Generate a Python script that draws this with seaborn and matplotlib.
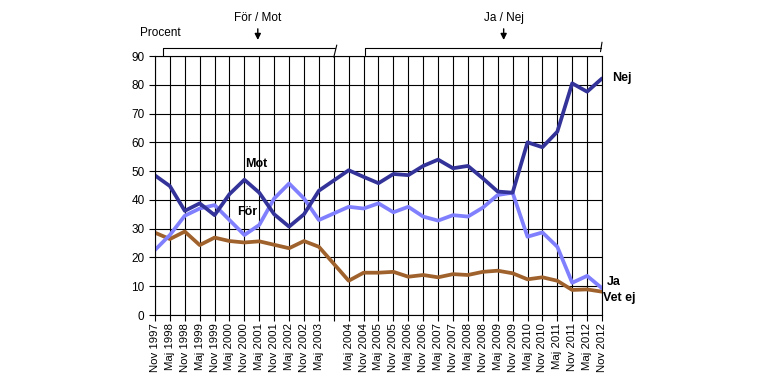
import numpy as np
import pandas as pd
import seaborn as sns
from matplotlib import pyplot as plt

# survey rounds, position 12 (Nov 2003) has no label and no data
labels = ["Nov 1997", "Maj 1998", "Nov 1998", "Maj 1999", "Nov 1999", "Maj 2000",
          "Nov 2000", "Maj 2001", "Nov 2001", "Maj 2002", "Nov 2002", "Maj 2003",
          "",
          "Maj 2004", "Nov 2004", "Maj 2005", "Nov 2005", "Maj 2006", "Nov 2006",
          "Maj 2007", "Nov 2007", "Maj 2008", "Nov 2008", "Maj 2009", "Nov 2009",
          "Maj 2010", "Nov 2010", "Maj 2011", "Nov 2011", "Maj 2012", "Nov 2012"]

mot_nej = [48.5, 44.8, 36.2, 38.8, 34.7, 42.0, 47.0, 42.5, 35.0, 30.7, 35.0, 43.2,
           np.nan,
           50.3, 48.0, 45.8, 49.0, 48.6, 51.8, 54.0, 51.0, 51.8, 47.5, 42.9, 42.5,
           60.0, 58.3, 63.7, 80.5, 77.6, 82.2]
for_ja = [22.6, 27.8, 34.5, 37.0, 38.2, 33.0, 27.8, 31.3, 40.5, 45.7, 40.5, 33.0,
          np.nan,
          37.6, 37.0, 38.8, 35.7, 37.6, 34.2, 32.8, 34.7, 34.2, 37.3, 41.7, 42.5,
          27.2, 28.7, 23.7, 11.2, 13.6, 9.3]
vet_ej = [28.6, 26.4, 29.0, 24.3, 26.9, 25.7, 25.2, 25.6, 24.4, 23.2, 25.7, 23.7,
          np.nan,
          11.9, 14.7, 14.7, 15.0, 13.3, 13.9, 13.1, 14.2, 13.9, 15.0, 15.4, 14.5,
          12.4, 13.1, 11.9, 8.7, 8.9, 8.1]

df = pd.DataFrame({"pos": range(len(labels)), "mot": mot_nej, "for": for_ja, "vet": vet_ej})
df = df.dropna()

sns.set_style("white")
plt.rcParams['font.family'] = ['Liberation Sans', 'DejaVu Sans']
plt.rcParams['text.color'] = 'black'
plt.rcParams['xtick.color'] = 'black'
plt.rcParams['ytick.color'] = 'black'

fig = plt.figure(figsize=(7.8, 3.9), dpi=100)
ax = fig.add_axes([0.1987, 0.1923, 0.5731, 0.6641])

sns.lineplot(data=df, x="pos", y="vet", color="#A0622D", linewidth=2.7, ax=ax)
sns.lineplot(data=df, x="pos", y="for", color="#8080FF", linewidth=2.7, ax=ax)
sns.lineplot(data=df, x="pos", y="mot", color="#333399", linewidth=2.7, ax=ax)

ax.set_xlim(0, 30)
ax.set_ylim(0, 90)
ax.set_xticks(range(len(labels)))
ax.set_xticklabels(labels, rotation=90, fontsize=8.2)
ax.set_yticks(range(0, 91, 10))
ax.tick_params(axis='y', labelsize=8.5, direction='out', length=4, left=True)
ax.tick_params(axis='x', direction='out', length=4, bottom=True, pad=2)
ax.grid(True, color='black', linewidth=0.8)
ax.set_axisbelow(True)
for s in ax.spines.values():
    s.set_color('black')
    s.set_linewidth(0.8)
ax.set_xlabel("")
ax.set_ylabel("")

# series labels
ax.text(6.8, 52.5, "Mot", fontsize=9, fontweight='bold', ha='center', va='center')
ax.text(6.2, 35.9, "För", fontsize=9, fontweight='bold', ha='center', va='center')
ax.text(30.65, 82.2, "Nej", fontsize=9, fontweight='bold', ha='left', va='center', clip_on=False)
ax.text(30.3, 11.6, "Ja", fontsize=9, fontweight='bold', ha='left', va='center', clip_on=False)
ax.text(30.05, 6.0, "Vet ej", fontsize=9, fontweight='bold', ha='left', va='center', clip_on=False)

# top brackets and period labels
ax.text(-1.0, 98.0, "Procent", fontsize=8.5, ha='left', va='center', clip_on=False)
kw = dict(color='black', linewidth=0.8, clip_on=False)
ax.plot([0.54, 0.54, 12.1], [90, 92.9, 92.9], **kw)
ax.plot([12.0, 12.2], [89.6, 93.8], **kw)
ax.plot([14.1, 14.1, 29.95], [90.5, 92.9, 92.9], **kw)
ax.plot([29.9, 30.0], [91.5, 94.8], **kw)
for xc, txt in [(6.9, "För / Mot"), (23.4, "Ja / Nej")]:
    ax.text(xc, 103.2, txt, fontsize=8.5, ha='center', va='center', clip_on=False)
    ax.annotate("", xy=(xc, 94.6), xytext=(xc, 100.4), annotation_clip=False,
                arrowprops=dict(arrowstyle='-|>', color='black', lw=1, mutation_scale=9))

fig.savefig("out.png", dpi=100)
